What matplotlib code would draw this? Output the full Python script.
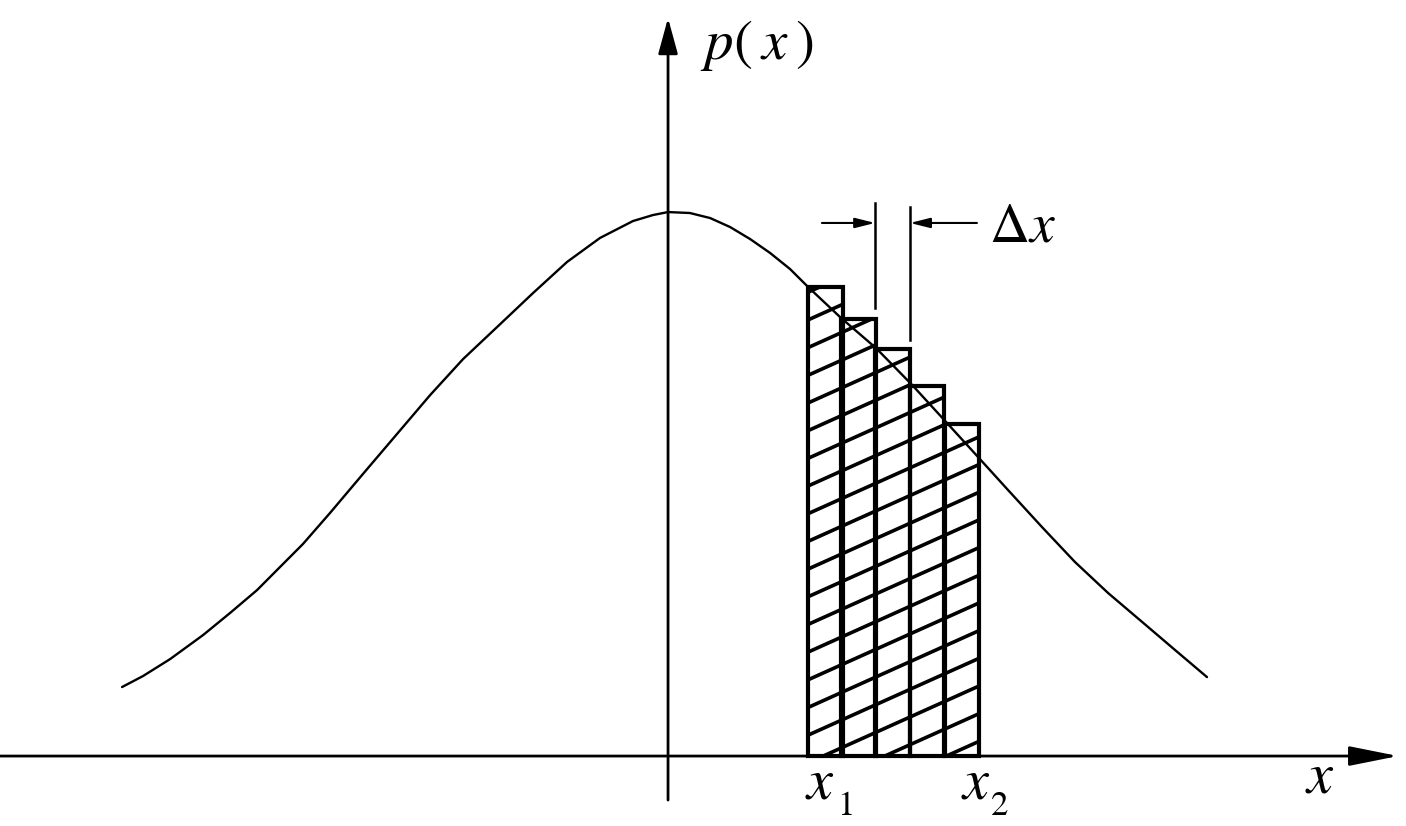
import matplotlib
matplotlib.use("Agg")
import matplotlib.pyplot as plt
import numpy as np
from matplotlib.collections import LineCollection

plt.rcParams["mathtext.fontset"] = "stix"
plt.rcParams["font.family"] = ["STIXGeneral", "DejaVu Serif"]

# ---- data ----
curve_x = [-2.022, -1.944, -1.844, -1.722, -1.622, -1.522, -1.426, -1.352, -1.252,
           -1.130, -1.004, -0.881, -0.759, -0.633, -0.500, -0.374, -0.252, -0.130,
           -0.056, 0.0, 0.081, 0.156, 0.230, 0.304, 0.378, 0.452, 0.519, 0.641,
           0.770, 0.904, 1.030, 1.148, 1.259, 1.385, 1.507, 1.630, 1.756, 1.878, 1.996]
curve_p = [0.0506, 0.0587, 0.0711, 0.0887, 0.1049, 0.1217, 0.1408, 0.1555, 0.1782,
           0.2068, 0.2361, 0.2647, 0.2911, 0.3146, 0.3395, 0.3623, 0.3799, 0.3923,
           0.3967, 0.3989, 0.3982, 0.3945, 0.3879, 0.3791, 0.3689, 0.3571, 0.3439,
           0.3212, 0.2992, 0.2721, 0.2449, 0.2193, 0.1951, 0.1679, 0.1423, 0.1195,
           0.0983, 0.0777, 0.0579]

bar_left = [0.519, 0.641, 0.767, 0.896, 1.026]
bar_height = [0.3439, 0.3205, 0.2985, 0.2713, 0.2435]
bar_width = 0.1274

bound_labels = ["1", "2"]
axis_x_label = r"$x$"
axis_y_label = r"$p(\:x\:)$"
delta_label = r"$\Delta x$"

fig = plt.figure(figsize=(14.06, 8.26), dpi=100)
ax = fig.add_axes([0, 0, 1, 1])
ax.set_xlim(-2.474, 2.733)
ax.set_ylim(-0.0513, 0.5544)
ax.axis("off")

# bars
bars = ax.bar(bar_left, bar_height, width=bar_width, align="edge",
              facecolor="none", edgecolor="black", linewidth=3.0, zorder=3)

# slanted hatching, clipped to each bar
slope = 0.089
spacing = 0.0203
xa = bar_left[0] - 0.05
xb = bar_left[-1] + bar_width + 0.05
segs = [[(xa, k * spacing - 0.05), (xb, k * spacing - 0.05 + slope * (xb - xa))]
        for k in range(-10, 30)]
for r in bars:
    lc = LineCollection(segs, colors="black", linewidths=2.6, zorder=2)
    ax.add_collection(lc)
    lc.set_clip_path(r)

# curve
ax.plot(curve_x, curve_p, color="black", lw=1.7, zorder=4,
        solid_joinstyle="round", solid_capstyle="round")

# axes with arrows
ax.annotate("", xy=(2.704, 0), xytext=(-2.474, 0),
            arrowprops=dict(arrowstyle="-|>,head_length=1.5,head_width=0.3",
                            mutation_scale=20, lw=2.0, color="black",
                            shrinkA=0, shrinkB=0), zorder=5)
ax.annotate("", xy=(0, 0.5412), xytext=(0, -0.0323),
            arrowprops=dict(arrowstyle="-|>,head_length=1.1,head_width=0.3",
                            mutation_scale=20, lw=2.0, color="black",
                            shrinkA=0, shrinkB=0), zorder=5)

# delta x dimension
xl = bar_left[2]
xr = bar_left[3]
ax.plot([xl, xl], [0.3285, 0.4055], color="black", lw=1.8)
ax.plot([xr, xr], [0.305, 0.4025], color="black", lw=1.8)
ax.annotate("", xy=(xl, 0.3909), xytext=(0.570, 0.3909),
            arrowprops=dict(arrowstyle="-|>,head_length=1.2,head_width=0.3",
                            mutation_scale=10, lw=1.5, color="black",
                            shrinkA=0, shrinkB=0))
ax.annotate("", xy=(xr, 0.3909), xytext=(1.144, 0.3909),
            arrowprops=dict(arrowstyle="-|>,head_length=1.2,head_width=0.3",
                            mutation_scale=10, lw=1.5, color="black",
                            shrinkA=0, shrinkB=0))

# texts
ax.text(1.19, 0.387, delta_label, fontsize=40, va="center", ha="left")
ax.text(0.119, 0.5214, axis_y_label, fontsize=41, va="center", ha="left")
x_starts = [bar_left[0] - 0.012, bar_left[-1] + bar_width - 0.067]
sub_offsets = [0.12, 0.11]
for xs, off, lab in zip(x_starts, sub_offsets, bound_labels):
    ax.text(xs, -0.031, r"$x$", fontsize=42, va="baseline", ha="left")
    ax.text(xs + off, -0.0435, lab, fontsize=25, va="baseline", ha="left")
ax.text(2.359, -0.0271, axis_x_label, fontsize=42, va="baseline", ha="left")

fig.savefig("out.png", dpi=100, facecolor="white")
